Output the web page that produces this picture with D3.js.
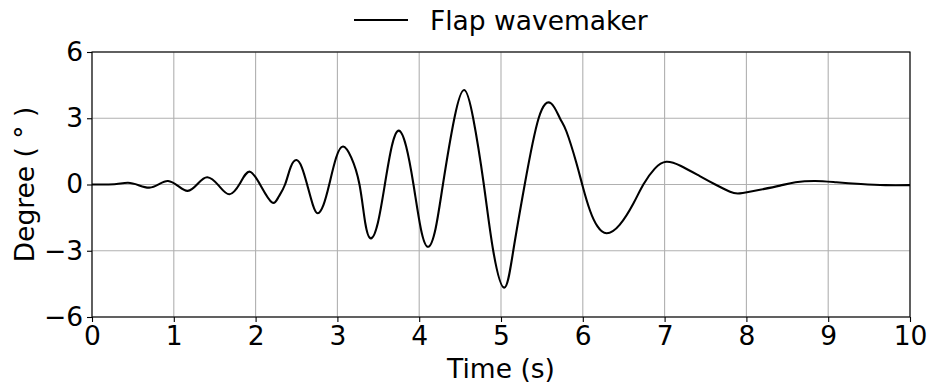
<!DOCTYPE html>
<html>
<head>
<meta charset="utf-8">
<script src="https://cdn.jsdelivr.net/npm/d3@7"></script>
<style>
  html, body { margin: 0; padding: 0; background: #fff; }
  svg { display: block; font-family: "DejaVu Sans", sans-serif; }
</style>
</head>
<body>
<svg id="chart" width="931" height="388"></svg>
<script>
// Flap wavemaker angle history
const timeS = [
  0.00, 0.15, 0.30, 0.44, 0.57, 0.70, 0.82, 0.93, 1.05, 1.17,
  1.29, 1.41, 1.55, 1.68, 1.81, 1.93, 2.07, 2.20, 2.28, 2.36,
  2.43, 2.50, 2.565, 2.63, 2.70, 2.76, 2.83, 2.90, 2.985, 3.07,
  3.17, 3.27, 3.34, 3.41, 3.495, 3.58, 3.665, 3.75, 3.84, 3.93,
  4.02, 4.11, 4.20, 4.29, 4.43, 4.55, 4.66, 4.79, 4.905, 5.04,
  5.15, 5.29, 5.46, 5.61, 5.72, 5.80, 5.92, 6.00, 6.09, 6.18,
  6.29, 6.45, 6.62, 6.74, 6.88, 7.02, 7.20, 7.43, 7.62, 7.80,
  7.92, 8.15, 8.41, 8.60, 8.84, 9.10, 9.40, 9.70, 10.00
];
const degree = [
  0.00, 0.00, 0.02, 0.08, -0.03, -0.14, 0.02, 0.16, -0.06, -0.29,
  0.02, 0.33, -0.05, -0.44, 0.06, 0.58, -0.10, -0.81, -0.57, 0.00,
  0.80, 1.11, 0.78, 0.00, -0.92, -1.30, -0.92, 0.00, 1.22, 1.72,
  1.22, 0.00, -1.73, -2.44, -1.73, 0.00, 1.73, 2.44, 1.73, 0.00,
  -2.00, -2.82, -2.00, 0.00, 3.00, 4.28, 3.00, 0.00, -3.00, -4.67,
  -3.00, 0.00, 3.00, 3.68, 3.00, 2.40, 1.00, -0.10, -1.20, -1.90,
  -2.21, -1.83, -0.85, 0.00, 0.72, 1.03, 0.84, 0.38, 0.00, -0.33,
  -0.40, -0.25, -0.05, 0.10, 0.16, 0.10, 0.02, -0.03, -0.03
];
const xTicks = [0, 1, 2, 3, 4, 5, 6, 7, 8, 9, 10];
const yTicks = [-6, -3, 0, 3, 6];
const seriesName = "Flap wavemaker";

const data = timeS.map((t, i) => ({ t, v: degree[i] }));

const svg = d3.select("#chart");
const m = { left: 92, right: 21, top: 52, bottom: 71 };
const W = 931, H = 388;
const fs = 26.5;

const x = d3.scaleLinear().domain([0, 10]).range([m.left, W - m.right]);
const y = d3.scaleLinear().domain([-6, 6]).range([H - m.bottom, m.top]);

// grid
const grid = svg.append("g").attr("stroke", "#b0b0b0").attr("stroke-width", 1.1);
xTicks.forEach(t => grid.append("line")
  .attr("x1", x(t)).attr("x2", x(t)).attr("y1", y(-6)).attr("y2", y(6)));
yTicks.forEach(t => grid.append("line")
  .attr("x1", x(0)).attr("x2", x(10)).attr("y1", y(t)).attr("y2", y(t)));

// curve
const line = d3.line().x(d => x(d.t)).y(d => y(d.v)).curve(d3.curveNatural);
svg.append("path").datum(data)
  .attr("fill", "none").attr("stroke", "#000").attr("stroke-width", 2.1)
  .attr("stroke-linejoin", "round")
  .attr("d", line);

// frame
svg.append("rect")
  .attr("x", x(0)).attr("y", y(6))
  .attr("width", x(10) - x(0)).attr("height", y(-6) - y(6))
  .attr("fill", "none").attr("stroke", "#000").attr("stroke-width", 1.1);

// axes
const fmt = d => d < 0 ? "\u2212" + Math.abs(d) : String(d);
const xAxis = svg.append("g").attr("transform", `translate(0,${y(-6)})`)
  .call(d3.axisBottom(x).tickValues(xTicks).tickFormat(fmt).tickSize(5).tickPadding(4));
const yAxis = svg.append("g").attr("transform", `translate(${x(0)},0)`)
  .call(d3.axisLeft(y).tickValues(yTicks).tickFormat(fmt).tickSize(5).tickPadding(4));
[xAxis, yAxis].forEach(a => {
  a.select(".domain").remove();
  a.selectAll(".tick line").attr("stroke", "#000").attr("stroke-width", 1.1);
  a.selectAll(".tick text").attr("fill", "#000")
    .style("font-family", "DejaVu Sans").style("font-size", fs + "px");
});

// axis titles
svg.append("text").attr("x", (x(0) + x(10)) / 2).attr("y", 378)
  .attr("text-anchor", "middle").style("font-size", fs + "px").text("Time (s)");
svg.append("text")
  .attr("transform", `translate(34,${(y(-6) + y(6)) / 2}) rotate(-90)`)
  .attr("text-anchor", "middle").style("font-size", fs + "px")
  .text("Degree ( \u00B0 )");

// legend
svg.append("line").attr("x1", 354).attr("x2", 408).attr("y1", 20).attr("y2", 20)
  .attr("stroke", "#000").attr("stroke-width", 2.1);
svg.append("text").attr("x", 430).attr("y", 30).style("font-size", fs + "px").text(seriesName);
</script>
</body>
</html>
